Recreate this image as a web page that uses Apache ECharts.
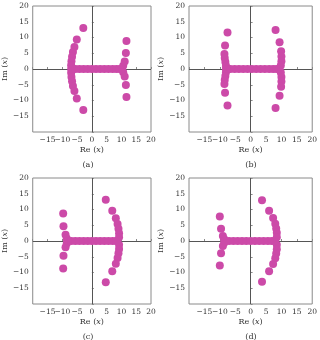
<!DOCTYPE html>
<html lang="en">
<head>
    <meta charset="UTF-8">
    <title>Zeros</title>
    <script src="https://cdn.jsdelivr.net/npm/echarts@6/dist/echarts.min.js"></script>
    <style>
        body { margin: 0; background: #fff; }
    </style>
</head>
<body>
<div id="myChart" style="width: 320px;height: 340px"></div>
<script>
    // panel (a)
    var aRe = [-2.9, -5.1, -5.9, -6.4, -6.7, -6.9, -7.0, -7.0, -6.9, -6.7, -6.4, -5.9, -5.1, -2.9,
        -7.0, -5.6, -4.2, -2.8, -1.4, 0, 1.4, 2.8, 4.2, 5.6, 7.0, 8.3, 9.4, 10.2,
        10.6, 11.1, 11.5, 11.7, 10.6, 11.1, 11.5, 11.7];
    var aIm = [13.0, 9.4, 7.0, 5.4, 3.9, 2.5, 1.2, -1.2, -2.5, -3.9, -5.4, -7.0, -9.4, -13.0,
        0, 0, 0, 0, 0, 0, 0, 0, 0, 0, 0, 0, 0, 0,
        1.0, 2.4, 5.1, 8.9, -1.0, -2.4, -5.1, -8.9];
    // panel (b)
    var bRe = [-7.5, -8.3, -8.5, -8.4, -8.2, -8.0, -8.0, -8.2, -8.4, -8.5, -8.3, -7.5,
        -8.0, -6.6, -5.2, -3.8, -2.4, -1.0, 0.4, 1.8, 3.2, 4.6, 6.0, 7.3, 8.4, 9.3,
        8.1, 9.4, 9.9, 10.0, 10.0, 9.8, 9.8, 10.0, 10.0, 9.9, 9.4, 8.1];
    var bIm = [11.6, 7.5, 4.8, 3.5, 2.2, 1.0, -1.0, -2.2, -3.5, -4.8, -7.5, -11.6,
        0, 0, 0, 0, 0, 0, 0, 0, 0, 0, 0, 0, 0, 0,
        12.4, 8.5, 5.6, 4.0, 2.5, 1.1, -1.1, -2.5, -4.0, -5.6, -8.5, -12.4];
    // panel (c)
    var cRe = [-9.7, -9.6, -8.9, -8.5, -8.5, -8.9, -9.6, -9.7,
        -8.3, -7.0, -5.6, -4.2, -2.8, -1.4, 0, 1.4, 2.8, 4.2, 5.6, 7.0, 8.2,
        4.7, 6.9, 8.1, 8.7, 9.0, 9.2, 9.2, 9.2, 9.2, 9.0, 8.7, 8.1, 6.9, 4.7];
    var cIm = [8.7, 4.7, 2.0, 0.8, -0.8, -2.0, -4.7, -8.7,
        0, 0, 0, 0, 0, 0, 0, 0, 0, 0, 0, 0, 0,
        13.1, 9.6, 7.2, 5.4, 3.9, 2.5, 1.2, -1.2, -2.5, -3.9, -5.4, -7.2, -9.6, -13.1];
    // panel (d)
    var dRe = [-10.0, -9.6, -9.0, -8.6, -8.6, -9.0, -9.6, -10.0,
        -8.4, -7.0, -5.6, -4.2, -2.8, -1.4, 0, 1.4, 2.8, 4.2, 5.6, 6.9, 7.9,
        3.7, 6.0, 7.3, 8.0, 8.3, 8.5, 8.5, 8.5, 8.5, 8.3, 8.0, 7.3, 6.0, 3.7];
    var dIm = [7.8, 3.9, 1.6, 0.6, -0.6, -1.6, -3.9, -7.8,
        0, 0, 0, 0, 0, 0, 0, 0, 0, 0, 0, 0, 0,
        12.9, 9.6, 7.3, 5.5, 4.0, 2.6, 1.2, -1.2, -2.6, -4.0, -5.5, -7.3, -9.6, -12.9];

    var captions = ['(a)', '(b)', '(c)', '(d)'];
    var panels = [[aRe, aIm], [bRe, bIm], [cRe, cIm], [dRe, dIm]];

    var font = "'DejaVu Serif', serif";
    var boxes = [
        {left: 26, top: 6},
        {left: 189, top: 6},
        {left: 26, top: 178},
        {left: 189, top: 178}
    ];

    function tickFmt(v) {
        if (v === -20) return '';
        return String(v).replace('-', '\u2212');
    }

    var grid = [], xAxis = [], yAxis = [], series = [], title = [];
    boxes.forEach(function (b, i) {
        grid.push({
            left: b.left, top: b.top, width: 125, height: 126,
            show: true, borderColor: '#8a8a8a', borderWidth: 1, backgroundColor: '#fff'
        });
        xAxis.push({
            gridIndex: i, type: 'value', min: -20, max: 20, interval: 5,
            axisLine: {show: false},
            axisTick: {show: true, inside: true, length: 2, lineStyle: {color: '#8a8a8a'}},
            splitLine: {show: false},
            axisLabel: {formatter: tickFmt, fontFamily: font, fontSize: 7.5, color: '#333', margin: 4},
            name: 'Re ({i|x})', nameLocation: 'middle', nameGap: 14,
            nameTextStyle: {fontFamily: font, fontSize: 8, color: '#333',
                rich: {i: {fontStyle: 'italic', fontFamily: font, fontSize: 8, color: '#333'}}}
        });
        yAxis.push({
            gridIndex: i, type: 'value', min: -20, max: 20, interval: 5,
            axisLine: {show: false},
            axisTick: {show: true, inside: true, length: 2, lineStyle: {color: '#8a8a8a'}},
            splitLine: {show: false},
            axisLabel: {formatter: tickFmt, fontFamily: font, fontSize: 7.5, color: '#333', margin: 4},
            name: 'Im ({i|x})', nameLocation: 'middle', nameGap: 17, nameRotate: 90,
            nameTextStyle: {fontFamily: font, fontSize: 8, color: '#333',
                rich: {i: {fontStyle: 'italic', fontFamily: font, fontSize: 8, color: '#333'}}}
        });
        var re = panels[i][0], im = panels[i][1];
        var data = [];
        for (var k = 0; k < re.length; k++) {
            data.push([re[k], im[k]]);
        }
        series.push({
            type: 'scatter', xAxisIndex: i, yAxisIndex: i,
            symbolSize: 8, itemStyle: {color: '#cc4aa8', opacity: 1},
            data: data,
            markLine: {
                silent: true, symbol: 'none', label: {show: false},
                lineStyle: {color: '#555', width: 1, type: 'solid'},
                data: [{xAxis: 0}, {yAxis: 0}],
                z: 1
            },
            z: 3
        });
        title.push({
            text: captions[i],
            left: b.left + 62, top: b.top + 155,
            padding: 0,
            textAlign: 'center',
            textStyle: {fontFamily: font, fontSize: 8, fontWeight: 'normal', color: '#333'}
        });
    });

    var myChart = echarts.init(document.getElementById('myChart'));
    myChart.setOption({
        animation: false,
        title: title,
        grid: grid,
        xAxis: xAxis,
        yAxis: yAxis,
        series: series
    });
</script>
</body>
</html>
